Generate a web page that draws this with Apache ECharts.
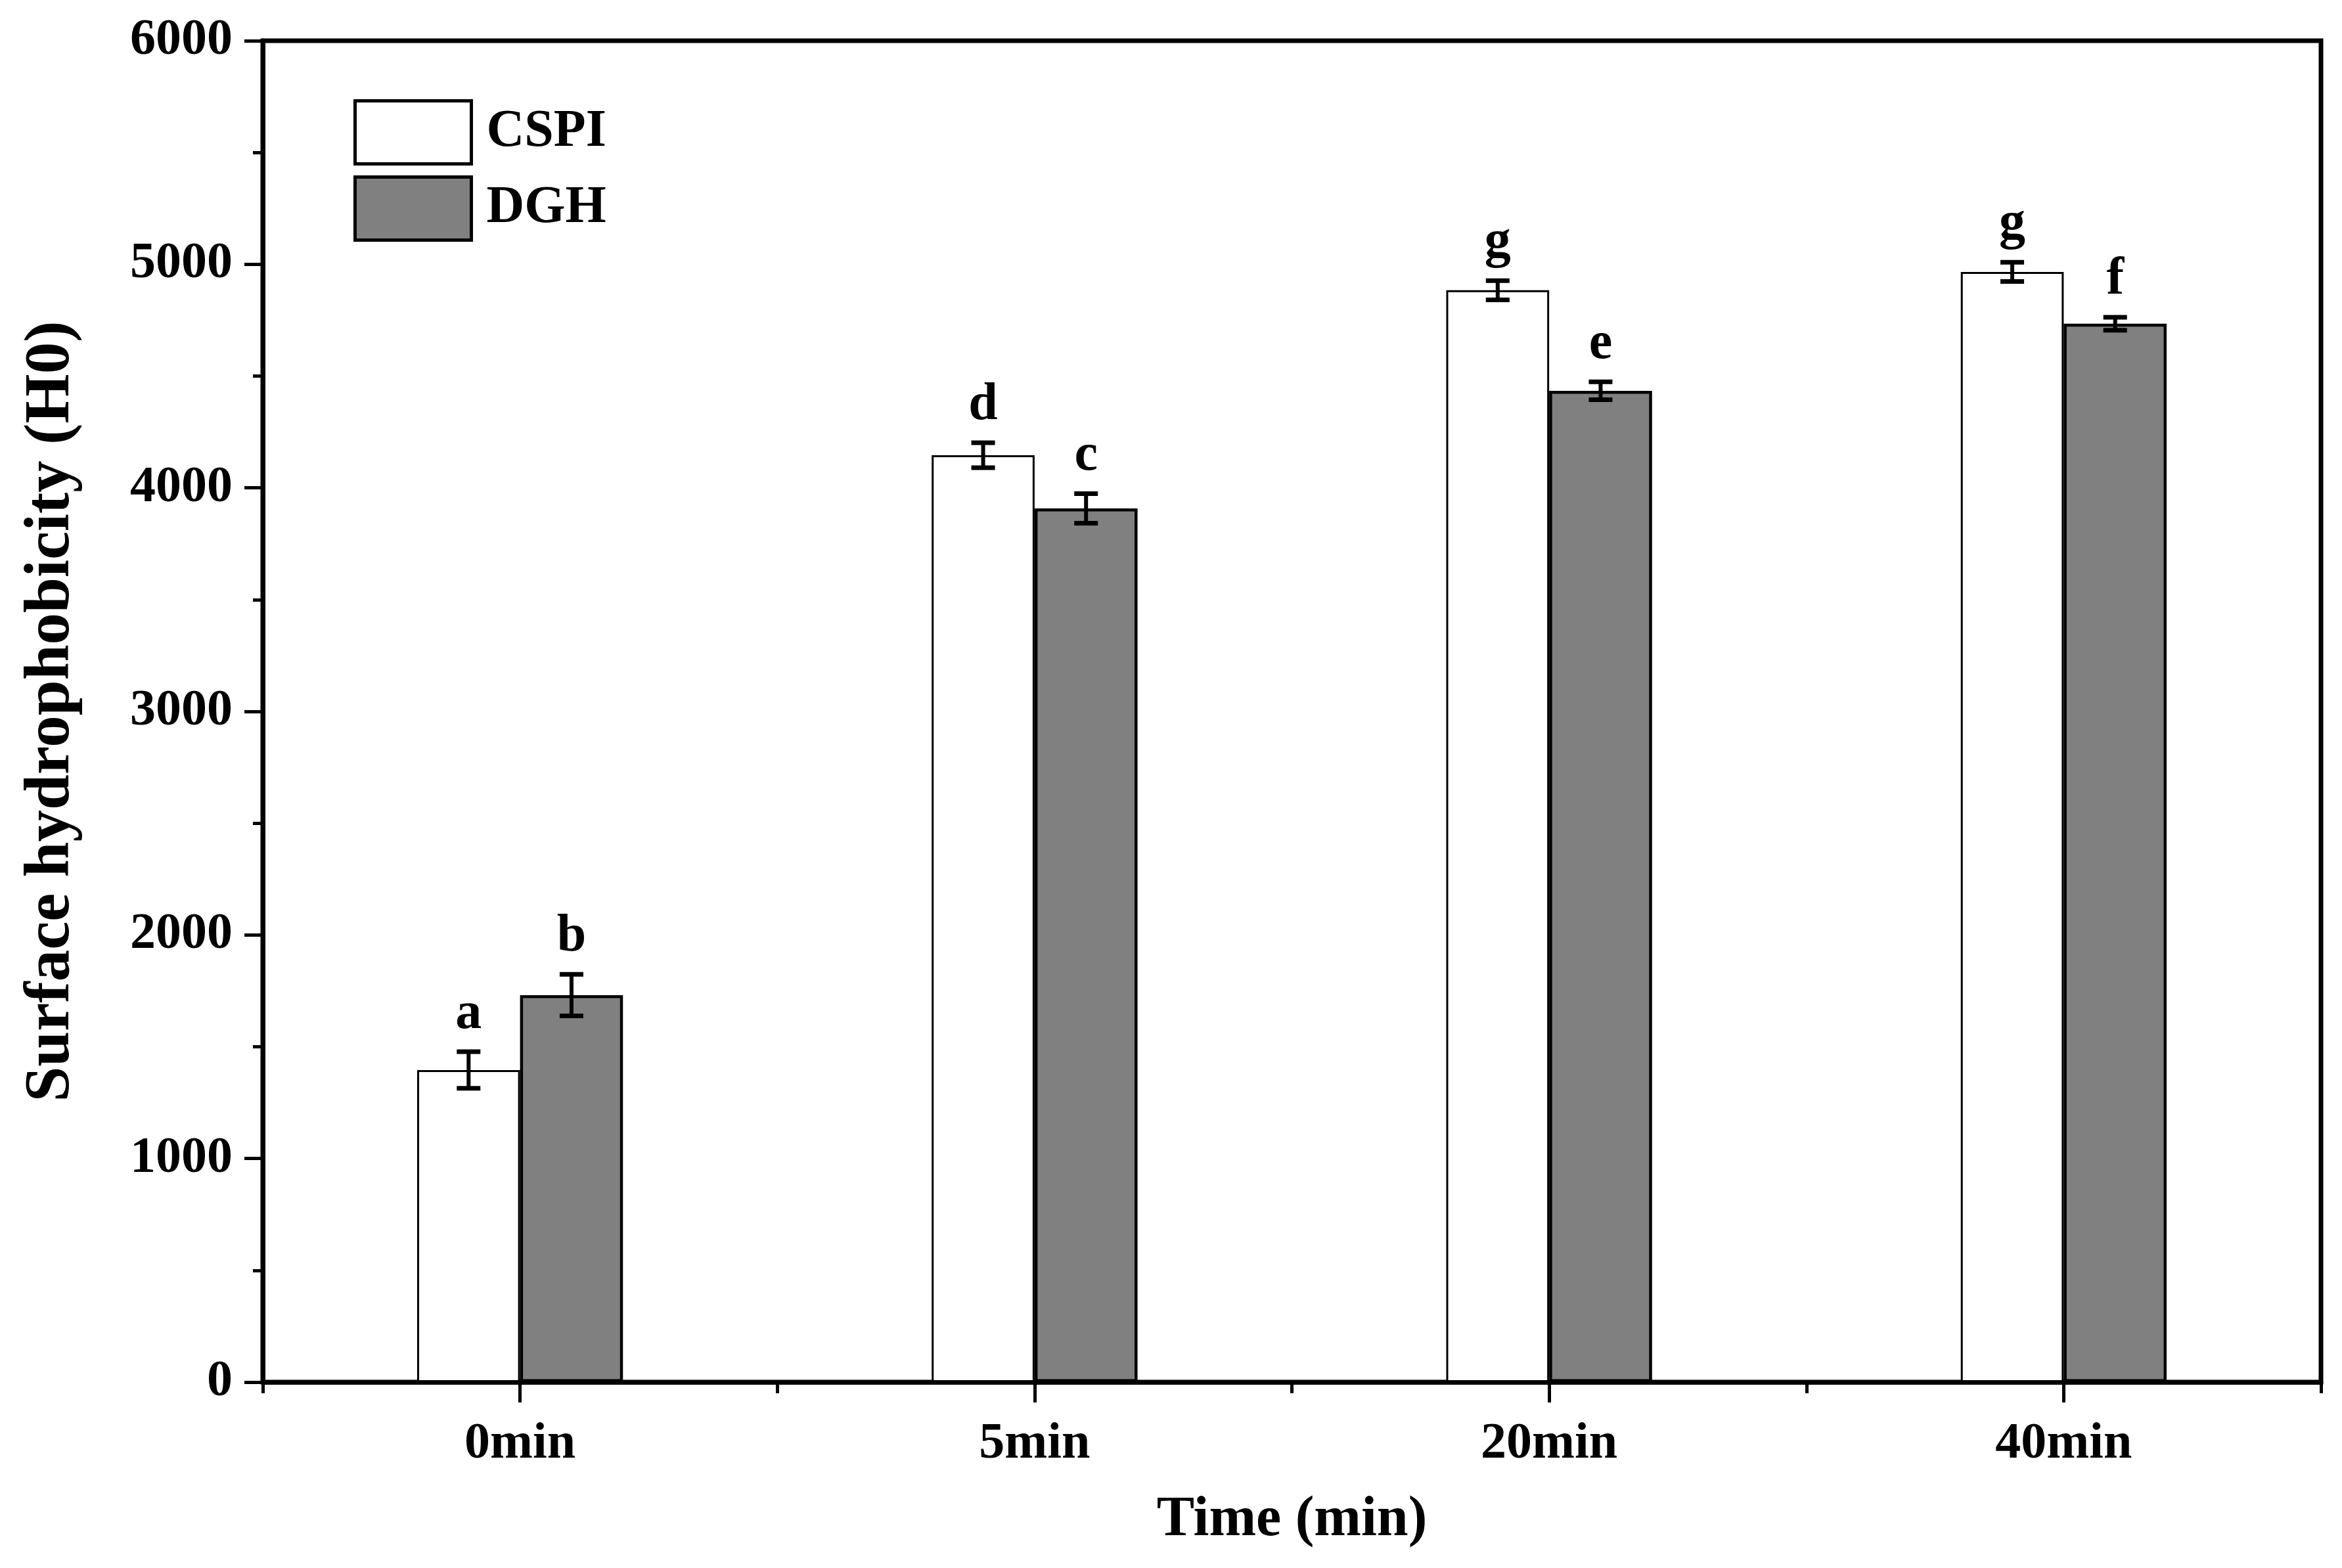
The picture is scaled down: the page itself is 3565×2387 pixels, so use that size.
<!DOCTYPE html>
<html>
<head>
<meta charset="utf-8">
<script src="https://cdn.jsdelivr.net/npm/echarts@6/dist/echarts.min.js"></script>
<style>
html,body{margin:0;padding:0;background:#fff;}
#chart{width:3565px;height:2387px;}
</style>
</head>
<body>
<div id="chart"></div>
<script>
const categories = ['0min', '5min', '20min', '40min'];
const cspiValues = [1396, 4146, 4884, 4966];
const cspiErrors = [82, 56, 43, 43];
const cspiLetters = ['a', 'd', 'g', 'g'];
const dghValues = [1731, 3908, 4434, 4734];
const dghErrors = [93, 66, 40, 29];
const dghLetters = ['b', 'c', 'e', 'f'];
const yTicks = [0, 1000, 2000, 3000, 4000, 5000, 6000];

const FONT = "'Liberation Serif', 'Times New Roman', serif";

function errorSeries(name, values, errors, letters, offsetFrac) {
  return {
    type: 'custom',
    name: name + ' err',
    xAxisIndex: 0,
    yAxisIndex: 0,
    z: 10,
    silent: true,
    data: values.map((v, i) => [i, v, errors[i]]),
    renderItem: function (params, api) {
      const x = api.value(0);
      const v = api.value(1);
      const e = api.value(2);
      const band = api.size([1, 0])[0];
      const top = api.coord([x, v + e]);
      const bot = api.coord([x, v - e]);
      const cx = top[0] + offsetFrac * band;
      const half = 18;
      return {
        type: 'group',
        children: [
          { type: 'line', shape: { x1: cx, y1: top[1], x2: cx, y2: bot[1] }, style: { stroke: '#000', lineWidth: 6 } },
          { type: 'line', shape: { x1: cx - half, y1: top[1], x2: cx + half, y2: top[1] }, style: { stroke: '#000', lineWidth: 7 } },
          { type: 'line', shape: { x1: cx - half, y1: bot[1], x2: cx + half, y2: bot[1] }, style: { stroke: '#000', lineWidth: 7 } },
          {
            type: 'text',
            x: cx,
            y: top[1] - 17,
            style: {
              text: letters[params.dataIndex],
              fill: '#000',
              font: 'bold 80px ' + FONT,
              align: 'center',
              verticalAlign: 'bottom'
            }
          }
        ]
      };
    }
  };
}

const chart = echarts.init(document.getElementById('chart'), null, { renderer: 'canvas' });
chart.setOption({
  backgroundColor: '#ffffff',
  animation: false,
  textStyle: { fontFamily: FONT, color: '#000' },
  grid: {
    left: 400, right: 32, top: 62, bottom: 283,
    show: true, borderColor: '#000', borderWidth: 7, backgroundColor: 'transparent'
  },
  legend: {
    data: ['CSPI', 'DGH'],
    orient: 'vertical',
    left: 533,
    top: 146,
    itemWidth: 177,
    itemHeight: 96,
    itemGap: 15,
    icon: 'rect',
    itemStyle: { borderColor: '#000', borderWidth: 5 },
    textStyle: { fontSize: 80, fontWeight: 'bold', fontFamily: FONT, color: '#000', padding: [0, 0, 0, 18] }
  },
  xAxis: [
    {
      type: 'category',
      data: categories,
      position: 'bottom',
      name: 'Time (min)',
      nameLocation: 'middle',
      nameGap: 168,
      nameTextStyle: { fontSize: 86, fontWeight: 'bold', fontFamily: FONT, color: '#000' },
      axisLine: { show: true, lineStyle: { color: '#000', width: 7 } },
      axisTick: { show: true, alignWithLabel: true, length: 31, lineStyle: { color: '#000', width: 5 } },
      axisLabel: { fontSize: 78, fontWeight: 'bold', fontFamily: FONT, color: '#000', margin: 56 },
      splitLine: { show: false }
    },
    {
      type: 'category',
      data: categories,
      position: 'bottom',
      axisLine: { show: false },
      axisTick: { show: true, alignWithLabel: false, length: 17, lineStyle: { color: '#000', width: 5 } },
      axisLabel: { show: false },
      splitLine: { show: false }
    }
  ],
  yAxis: {
    type: 'value',
    min: yTicks[0],
    max: yTicks[yTicks.length - 1],
    interval: 1000,
    name: 'Surface hydrophobicity (H0)',
    nameLocation: 'middle',
    nameGap: 273,
    nameTextStyle: { fontSize: 97, fontWeight: 'bold', fontFamily: FONT, color: '#000' },
    axisLine: { show: true, lineStyle: { color: '#000', width: 7 } },
    axisTick: { show: true, length: 28, lineStyle: { color: '#000', width: 5 } },
    minorTick: { show: true, splitNumber: 2, length: 15, lineStyle: { color: '#000', width: 5 } },
    axisLabel: {
      fontSize: 78, fontWeight: 'bold', fontFamily: FONT, color: '#000', margin: 46,
      formatter: function (v) { return String(v); }
    },
    splitLine: { show: false },
    minorSplitLine: { show: false }
  },
  series: [
    {
      name: 'CSPI',
      type: 'bar',
      xAxisIndex: 0,
      data: cspiValues,
      barWidth: '20%',
      barGap: '0%',
      itemStyle: { color: '#ffffff', borderColor: '#000', borderWidth: 3 }
    },
    {
      name: 'DGH',
      type: 'bar',
      xAxisIndex: 0,
      data: dghValues,
      barWidth: '20%',
      barGap: '0%',
      itemStyle: { color: '#808080', borderColor: '#000', borderWidth: 4.5 }
    },
    errorSeries('CSPI', cspiValues, cspiErrors, cspiLetters, -0.1),
    errorSeries('DGH', dghValues, dghErrors, dghLetters, 0.1)
  ]
});
</script>
</body>
</html>
